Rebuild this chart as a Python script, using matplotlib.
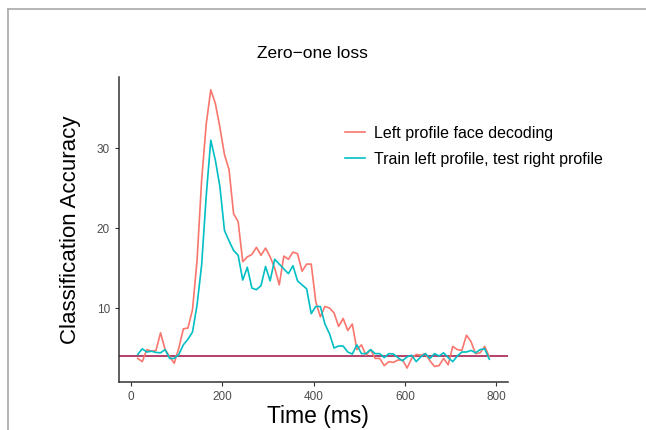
import numpy as np
import matplotlib
matplotlib.use("Agg")
import matplotlib.pyplot as plt
from matplotlib.lines import Line2D

plt.rcParams["font.family"] = ["Liberation Sans", "DejaVu Sans"]

# time grid (ms), 10 ms steps
time_ms = np.arange(15, 790, 10)

left_profile = [
    3.7, 3.3, 4.8, 4.6, 4.7, 6.9, 4.8, 3.9, 3.1,
    5.0, 7.4, 7.5, 9.8, 16.0, 26.0, 33.0, 37.3, 35.6, 32.6,
    29.2, 27.3, 21.8, 20.8, 15.8, 16.4, 16.7, 17.6, 16.6, 17.5,
    16.4, 15.0, 12.9, 16.5, 16.1, 17.0, 16.8, 14.6, 15.5, 15.5,
    10.8, 8.9, 10.2, 10.0, 9.4, 7.7, 8.7, 7.2, 8.0, 4.8,
    5.4, 4.1, 4.8, 3.7, 3.7, 2.8, 3.3, 3.2, 3.5, 3.5,
    2.5, 3.7, 4.2, 4.1, 4.3, 3.4, 2.7, 2.8, 3.7, 2.9,
    5.2, 4.8, 4.7, 6.6, 5.8, 4.3, 4.4, 5.2, 3.9,
]

cross_profile = [
    4.2, 4.9, 4.5, 4.6, 4.45, 4.4, 4.8, 3.7, 3.7,
    4.2, 5.4, 6.1, 7.0, 10.4, 15.4, 24.0, 31.0, 28.5, 25.2,
    19.7, 18.4, 17.2, 16.6, 13.5, 15.1, 12.5, 12.3, 12.8, 15.2,
    13.4, 16.1, 15.5, 14.9, 14.3, 15.3, 13.4, 12.9, 12.4, 9.3,
    10.2, 10.2, 8.0, 6.8, 5.0, 5.25, 5.25, 4.5, 4.25, 5.4,
    4.3, 4.3, 4.8, 4.3, 4.3, 3.8, 4.3, 4.25, 3.8, 3.4,
    3.9, 4.1, 3.3, 3.9, 4.3, 3.7, 4.3, 4.0, 4.4, 3.8,
    3.3, 4.0, 4.5, 4.5, 4.7, 4.4, 4.8, 4.9, 3.6,
]

chance = 4.0

fig = plt.figure(figsize=(6.46, 4.30), dpi=100)
ax = fig.add_axes([119 / 646, 1 - 382 / 430, (508 - 119) / 646, (382 - 77) / 430])

ax.axhline(chance, color="#B03060", lw=1.3, zorder=1)
ax.plot(time_ms, left_profile, color="#F8766D", lw=1.2,
        label="Left profile face decoding", zorder=2)
ax.plot(time_ms, cross_profile, color="#00BFC4", lw=1.2,
        label="Train left profile, test right profile", zorder=3)

ax.set_xlim(-26, 826)
ax.set_ylim(0.75, 38.9)
ax.set_xticks([0, 200, 400, 600, 800])
ax.set_yticks([10, 20, 30])

for s in ["top", "right"]:
    ax.spines[s].set_visible(False)
for s in ["left", "bottom"]:
    ax.spines[s].set_color("#333333")
    ax.spines[s].set_linewidth(1.1)
ax.tick_params(colors="#333333", labelcolor="#4D4D4D", labelsize=8.5,
               length=3, width=0.8)

fig.text(312 / 646, 1 - 53 / 430, "Zero\u2212one loss", fontsize=12.5,
         ha="center", va="center")
fig.text(318 / 646, 1 - 417 / 430, "Time (ms)", fontsize=16.5,
         ha="center", va="center")
ax.set_ylabel("Classification Accuracy", fontsize=16, labelpad=11)

ax.legend(loc="upper left", bbox_to_anchor=(0.545, 0.887), frameon=False,
          fontsize=11.5, handlelength=1.2, handletextpad=0.6, labelspacing=0.7)

# grey frame of the original screenshot
fig.add_artist(Line2D([8 / 646, 1], [1 - 9 / 430, 1 - 9 / 430],
                      transform=fig.transFigure, color="#A8A8A8", lw=1.2))
fig.add_artist(Line2D([8 / 646, 8 / 646], [0, 1 - 9 / 430],
                      transform=fig.transFigure, color="#A8A8A8", lw=1.2))

fig.savefig("out.png", dpi=100)
